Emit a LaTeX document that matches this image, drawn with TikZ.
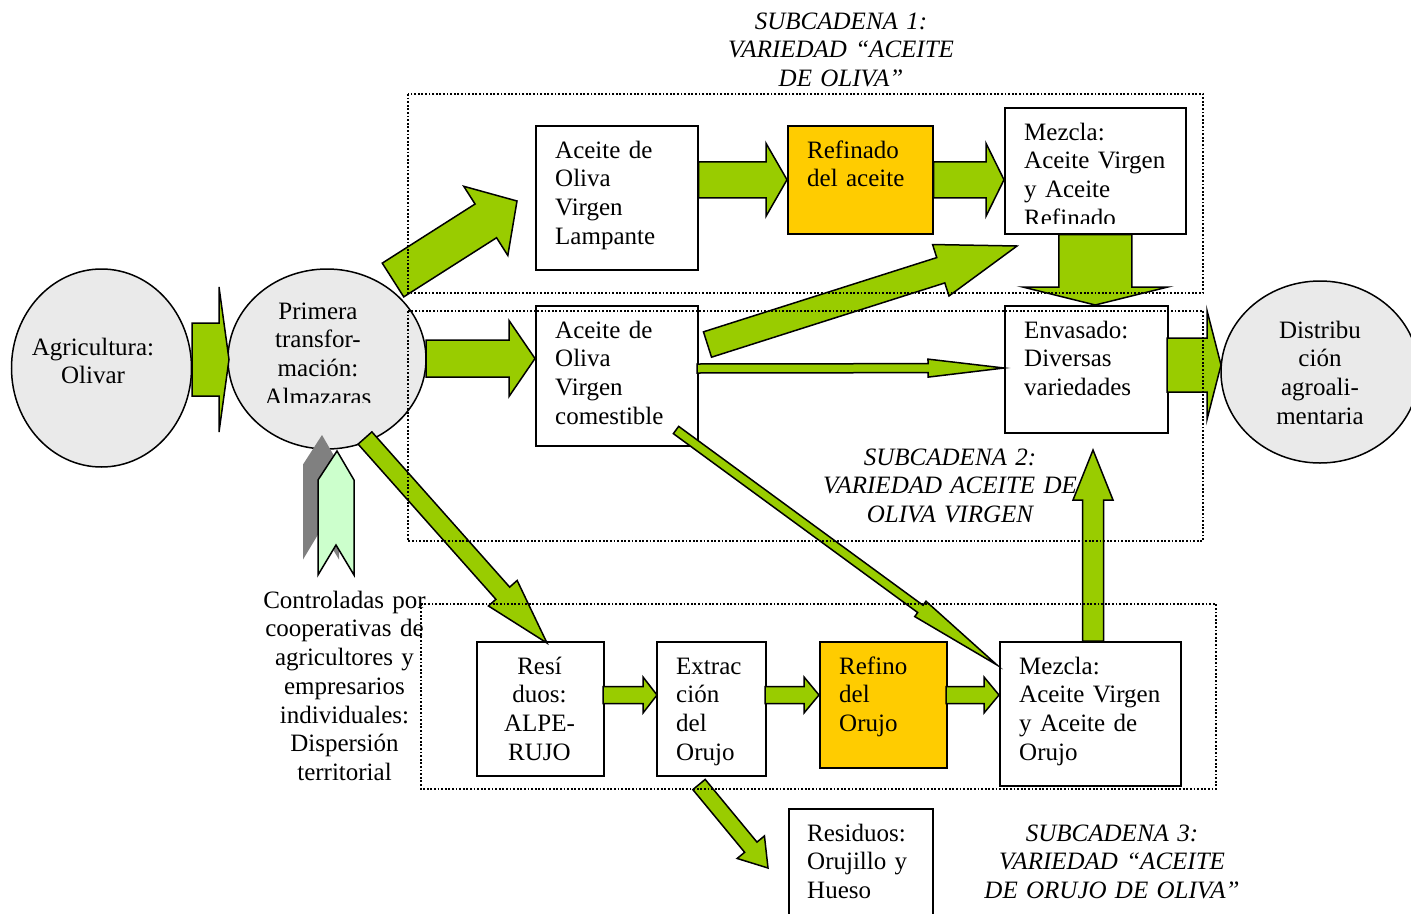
\documentclass[tikz,border=0pt]{standalone}
\usepackage{fontspec}
\setmainfont{Liberation Serif}
\usetikzlibrary{calc,shapes.geometric}

\definecolor{arrowgreen}{HTML}{99CC00}
\definecolor{stepgold}{HTML}{FFCC00}
\definecolor{palegreen}{HTML}{CCFFCC}
\definecolor{discgray}{HTML}{EAEAEA}
\definecolor{shadowgray}{HTML}{808080}

\tikzset{
  stagebox/.style={rectangle, draw=black, line width=1.5pt, fill=white, inner sep=0pt, anchor=north west},
  goldbox/.style={stagebox, fill=stepgold},
  disc/.style={ellipse, draw=black, line width=1.5pt, fill=discgray, inner sep=0pt},
  txt/.style={inner sep=0pt, font=\fontsize{25}{28.75}\selectfont, text width=260pt, align=left, anchor=north west},
  ctxt/.style={txt, align=center, anchor=north},
  itxt/.style={ctxt, font=\fontsize{25}{28.75}\selectfont\itshape},
  barrow/.style={draw=black, line width=1.5pt, fill=arrowgreen, line join=miter, miter limit=12},
  zone/.style={draw=black, line width=1.6pt, dash pattern=on 1.8pt off 1.8pt},
}

% block arrow: [options]{start}{tip}{shaft half width}{head half width}{head length}
\newcommand\fatarrow[6][]{%
  \coordinate (fa-base) at ($(#3)!#6!(#2)$);
  \draw[barrow,#1] ($(#2)!#4!90:(#3)$) -- ($(fa-base)!#4!90:(#3)$)
    -- ($(fa-base)!#5!90:(#3)$) -- (#3) -- ($(fa-base)!#5!-90:(#3)$)
    -- ($(fa-base)!#4!-90:(#3)$) -- ($(#2)!#4!-90:(#3)$) -- cycle;}

\begin{document}
\begin{tikzpicture}[x=1pt,y=-1pt]
\useasboundingbox (0,0) rectangle (1411,913);
\fill[white] (0,0) rectangle (1411,913);

% round stages
\node[disc, minimum width=180pt, minimum height=198pt] (agri) at (101.5,368) {};
\node[disc, minimum width=198pt, minimum height=180pt] (prim) at (327,359) {};
\node[disc, minimum width=198pt, minimum height=182pt] (dist) at (1320,372) {};

% boxed stages
\node[stagebox, minimum width=162pt, minimum height=144pt] (lamp) at (535,125) {};
\node[goldbox,  minimum width=145pt, minimum height=108pt] (refa) at (787,125) {};
\node[stagebox, minimum width=181pt, minimum height=126pt] (mezA) at (1004,107) {};
\node[stagebox, minimum width=162pt, minimum height=140pt] (come) at (535,305) {};
\node[stagebox, minimum width=163pt, minimum height=127pt] (env)  at (1004,305) {};
\node[stagebox, minimum width=127pt, minimum height=134pt] (alpe) at (476,641) {};
\node[stagebox, minimum width=109pt, minimum height=134pt] (extr) at (656,641) {};
\node[goldbox,  minimum width=127pt, minimum height=126pt] (refo) at (819,641) {};
\node[stagebox, minimum width=181pt, minimum height=144pt] (mezO) at (999,641) {};
\node[stagebox, minimum width=144pt, minimum height=130pt] (resO) at (788,808) {};

% labels
\node[ctxt] (agri-t) at (93,334.9) {\strut Agricultura:\\Olivar};
\begin{scope}
  \clip (200,280) rectangle (450,402.5);
  \node[ctxt] (prim-t) at (318,298.9) {\strut Primera\\transfor-\\mación:\\Almazaras};
\end{scope}
\node[ctxt] (dist-t) at (1320,317.9) {\strut Distribu\\ción\\agroali-\\mentaria};
\node[txt] (lamp-t) at (555,137.9) {\strut Aceite de\\Oliva\\Virgen\\Lampante};
\node[txt] (refa-t) at (807,137.9) {\strut Refinado\\del aceite};
\begin{scope}
  \clip (1004,107) rectangle (1185,223.5);
  \node[txt] (mezA-t) at (1024,119.9) {\strut Mezcla:\\Aceite Virgen\\y Aceite\\Refinado};
\end{scope}
\node[txt] (come-t) at (555,317.9) {\strut Aceite de\\Oliva\\Virgen\\comestible};
\node[txt] (env-t) at (1024,317.9) {\strut Envasado:\\Diversas\\variedades};
\node[ctxt] (alpe-t) at (539.5,653.9) {\strut Resí\\duos:\\ALPE-\\RUJO};
\node[txt] (extr-t) at (676,653.9) {\strut Extrac\\ción\\del\\Orujo};
\node[txt] (refo-t) at (839,653.9) {\strut Refino\\del\\Orujo};
\node[txt] (mezO-t) at (1019,653.9) {\strut Mezcla:\\Aceite Virgen\\y Aceite de\\Orujo};
\node[txt] (resO-t) at (807,820.9) {\strut Residuos:\\Orujillo y\\Hueso};
\node[ctxt] (ctrl-t) at (344.5,587.9) {\strut Controladas por\\cooperativas de\\agricultores y\\empresarios\\individuales:\\Dispersión\\territorial};
\node[itxt] (sub1) at (841,8.9) {\strut SUBCADENA 1:\\VARIEDAD “ACEITE\\DE OLIVA”};
\node[itxt] (sub2) at (950,444.9) {\strut SUBCADENA 2:\\VARIEDAD ACEITE DE\\OLIVA VIRGEN};
\node[itxt] (sub3) at (1112,820.9) {\strut SUBCADENA 3:\\VARIEDAD “ACEITE\\DE ORUJO DE OLIVA”};

% arrow end points
\coordinate (a1s) at (192,359.5);   \coordinate (a1e) at (229,359.5);
\coordinate (a2s) at (426,358.5);   \coordinate (a2e) at (535,358.5);
\coordinate (a3s) at (393,280);     \coordinate (a3e) at (517,201);
\coordinate (a6s) at (707.5,344.5); \coordinate (a6e) at (1017,246);
\coordinate (a7s) at (697,368.5);   \coordinate (a7e) at (1004,368);
\coordinate (a9s) at (1167,365);    \coordinate (a9e) at (1221,365);
\coordinate (a10s) at (365,438);    \coordinate (a10e) at (547,643);
\coordinate (a11s) at (676,430);    \coordinate (a11e) at (997,665);
\coordinate (a12s) at (1093,641);   \coordinate (a12e) at (1093,450);
\coordinate (a13s) at (603,695);    \coordinate (a13e) at (657,695);
\coordinate (a14s) at (765,695);    \coordinate (a14e) at (819,695);
\coordinate (a15s) at (946,695);    \coordinate (a15e) at (999,695);
\coordinate (a16s) at (699,784.5);  \coordinate (a16e) at (768,868);

% flows
\fatarrow{a1s}{a1e}{36.5pt}{72.5pt}{10pt}
\fatarrow{a2s}{a2e}{18.5pt}{38pt}{26pt}
\fatarrow{a3s}{a3e}{20pt}{41pt}{37pt}
\fatarrow{lamp.east |- refa.center}{refa.west}{18pt}{36.5pt}{21pt}
\fatarrow{refa.east}{mezA.west |- refa.center}{18pt}{36.5pt}{18pt}
\fatarrow{a6s}{a6e}{13.3pt}{27pt}{80pt}
\fatarrow{a7s}{a7e}{4.5pt}{9pt}{76pt}
\fatarrow{mezA.south}{mezA.south |- env.north}{36.5pt}{72.5pt}{18pt}
\fatarrow{a9s}{a9e}{27pt}{54.5pt}{14pt}
\fatarrow{a10s}{a10e}{9.2pt}{19.2pt}{66.6pt}
\fatarrow{a11s}{a11e}{4.5pt}{9.5pt}{95pt}
\fatarrow{a12s}{a12e}{10.5pt}{20pt}{50pt}
\fatarrow{a13s}{a13e}{8.5pt}{18pt}{14pt}
\fatarrow{a14s}{a14e}{8.5pt}{18pt}{15pt}
\fatarrow{a15s}{a15e}{8.5pt}{18pt}{15pt}
\fatarrow{a16s}{a16e}{8pt}{17.7pt}{27pt}

% notched arrow with its shadow, pointing at the mills
\fill[shadowgray] (303,559.5) -- (303,464.5) -- (322,435) -- (339,464.5) -- (339,559.5) -- (321,529.5) -- cycle;
\draw[line width=1.5pt, fill=palegreen, line join=miter] (318,575) -- (318,480) -- (337,451) -- (354,480) -- (354,575) -- (336,545) -- cycle;

% sub-chain frames
\draw[zone] (408,94) rectangle (1203,293);
\draw[zone] (408,311) rectangle (1203,541);
\draw[zone] (421,604) rectangle (1216,789);
\end{tikzpicture}
\end{document}
